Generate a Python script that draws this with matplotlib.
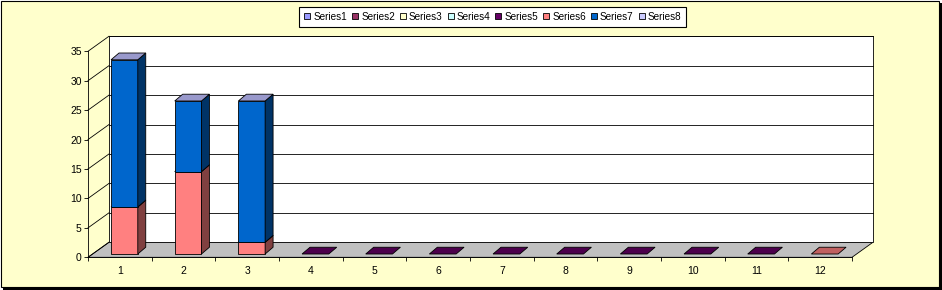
import numpy as np
import matplotlib.pyplot as plt
from matplotlib.patches import Polygon, Rectangle
from matplotlib.lines import Line2D

plt.rcParams['font.family'] = ['Liberation Sans', 'DejaVu Sans']

# ========== Data ==========
nan = np.nan
categories = ['1', '2', '3', '4', '5', '6', '7', '8', '9', '10', '11', '12']
series_names = ['Series1', 'Series2', 'Series3', 'Series4',
                'Series5', 'Series6', 'Series7', 'Series8']
series1 = [nan] * 12
series2 = [nan] * 12
series3 = [nan] * 12
series4 = [nan] * 12
series5 = [nan, nan, nan, 0, 0, 0, 0, 0, 0, 0, 0, nan]
series6 = [8, 14, 2, nan, nan, nan, nan, nan, nan, nan, nan, 0]
series7 = [25, 12, 24, nan, nan, nan, nan, nan, nan, nan, nan, nan]
series8 = [nan] * 12
y_ticks = [0, 5, 10, 15, 20, 25, 30, 35]

# ========== Style ==========
front_colors = ['#9999FF', '#993366', '#FFFFCC', '#CCFFFF',
                '#660066', '#FF8080', '#0066CC', '#CCCCFF']
side_colors = ['#4C4C80', '#4C1933', '#808066', '#668080',
               '#330033', '#804040', '#003366', '#666680']
top_colors = ['#7373BF', '#732640', '#BFBF99', '#99BFBF',
              '#4C004C', '#C06060', '#9999CC', '#9999BF']

WALL_DX, WALL_DY = 0.33, 2.56      # depth of floor / back wall
BAR_W = 0.42
BAR_DX, BAR_DY = 0.125, 1.15       # depth of a column
BAR_OX, BAR_OY = 0.072, 0.56       # column sits slightly behind the front
LW = 0.6

fig = plt.figure(figsize=(9.42, 2.90), dpi=100, facecolor='white')
W, H = 942, 290

# chart area with drop shadow
fig.patches.append(Rectangle((3 / W, 0), 939 / W, 287 / H, transform=fig.transFigure,
                             facecolor='black', edgecolor='none', zorder=-3))
fig.patches.append(Rectangle((0.5 / W, 3.5 / H), 938 / W, 286 / H, transform=fig.transFigure,
                             facecolor='#FFFFCC', edgecolor='black', linewidth=0.8, zorder=-2))

ax = fig.add_axes([88 / W, (290 - 257.3) / H, 764 / W, 206 / H])
ax.patch.set_visible(False)
ax.set_xlim(0.5, 12.5)
ax.set_ylim(0, 35)
x0, x1 = 0.5, 12.5
ytop = y_ticks[-1]

# floor
ax.add_patch(Polygon([(x0, 0), (x1, 0), (x1 + WALL_DX, WALL_DY), (x0 + WALL_DX, WALL_DY)],
                     closed=True, facecolor='#C0C0C0', edgecolor='black', lw=LW,
                     clip_on=False, zorder=1))
# back wall
ax.add_patch(Rectangle((x0 + WALL_DX, WALL_DY), x1 - x0, ytop, facecolor='white',
                       edgecolor='black', lw=LW, clip_on=False, zorder=1))
# gridlines on back wall and side wall
for v in y_ticks:
    if v > 0:
        ax.plot([x0 + WALL_DX, x1 + WALL_DX], [v + WALL_DY, v + WALL_DY],
                color='black', lw=LW, clip_on=False, zorder=2)
    ax.plot([x0, x0 + WALL_DX], [v, v + WALL_DY], color='black', lw=LW,
            clip_on=False, zorder=2)

# stacked 3d columns
all_series = [series1, series2, series3, series4, series5, series6, series7, series8]
xs = np.arange(1, len(categories) + 1)
bottoms = np.zeros(len(categories))
for s_idx, vals in enumerate(all_series):
    for i, v in enumerate(vals):
        if np.isnan(v):
            continue
        left = xs[i] + BAR_OX - BAR_W / 2
        right = left + BAR_W
        b = bottoms[i] + BAR_OY
        t = b + v
        if v > 0:
            ax.bar(xs[i] + BAR_OX, v, bottom=b, width=BAR_W, color=front_colors[s_idx],
                   edgecolor='black', lw=LW, clip_on=False, zorder=5)
            ax.add_patch(Polygon([(right, b), (right + BAR_DX, b + BAR_DY),
                                  (right + BAR_DX, t + BAR_DY), (right, t)],
                                 closed=True, facecolor=side_colors[s_idx],
                                 edgecolor='black', lw=LW, clip_on=False, zorder=5))
        ax.add_patch(Polygon([(left, t), (right, t), (right + BAR_DX, t + BAR_DY),
                              (left + BAR_DX, t + BAR_DY)],
                             closed=True, facecolor=top_colors[s_idx],
                             edgecolor='black', lw=LW, clip_on=False, zorder=5))
        bottoms[i] += v

# axes
for side in ['top', 'right']:
    ax.spines[side].set_visible(False)
for side in ['left', 'bottom']:
    ax.spines[side].set_linewidth(LW)
    ax.spines[side].set_zorder(3)
ax.set_yticks(y_ticks)
ax.tick_params(axis='y', direction='out', length=3, width=LW, pad=1.5, labelsize=7.5)
ax.set_xticks(xs)
ax.set_xticklabels(categories)
ax.set_xticks(np.arange(0.5, 13, 1), minor=True)
ax.tick_params(axis='x', which='major', length=0, pad=6, labelsize=7.5)
ax.tick_params(axis='x', which='minor', direction='out', length=2.6, width=LW)

# legend
handles = [Line2D([], [], marker='s', linestyle='', markersize=4.5,
                  markerfacecolor=c, markeredgecolor='black', markeredgewidth=0.6)
           for c in front_colors]
leg = fig.legend(handles, series_names, loc='center', bbox_to_anchor=(492.5 / W, 1 - 16.5 / H),
                 ncol=8, fontsize=7.2, frameon=True, fancybox=False, framealpha=1,
                 edgecolor='black', facecolor='white', handlelength=0.7,
                 handletextpad=0.25, columnspacing=0.45, borderpad=0.5, borderaxespad=0)
leg.get_frame().set_linewidth(0.8)

fig.savefig('out.png', dpi=100, facecolor=fig.get_facecolor())
